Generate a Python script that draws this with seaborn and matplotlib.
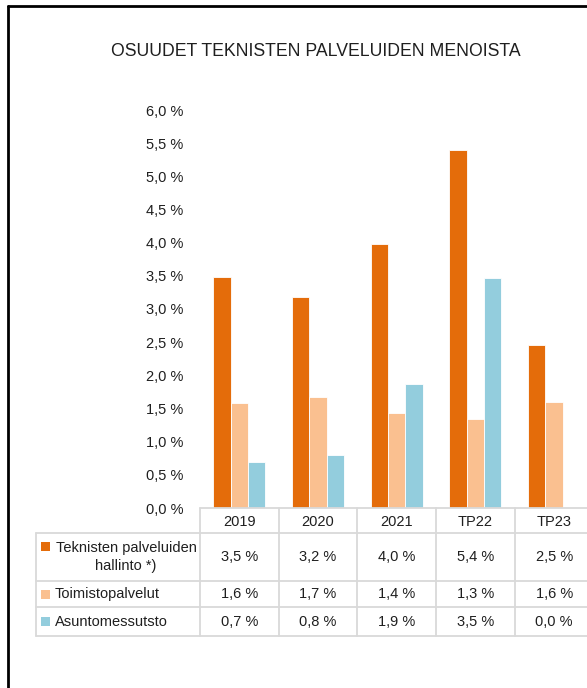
import pandas as pd
import matplotlib.pyplot as plt
import seaborn as sns
from matplotlib.lines import Line2D
from matplotlib.patches import Rectangle

# Data
vuodet = ["2019", "2020", "2021", "TP22", "TP23"]
sarjat = ["Teknisten palveluiden\nhallinto *)", "Toimistopalvelut", "Asuntomessutsto"]
hallinto = [3.48, 3.18, 3.98, 5.40, 2.46]
toimisto = [1.58, 1.67, 1.43, 1.34, 1.60]
asuntomessut = [0.69, 0.80, 1.87, 3.46, 0.00]
varit = ["#E46C0A", "#FAC090", "#93CDDD"]
yticks = [0, 0.5, 1.0, 1.5, 2.0, 2.5, 3.0, 3.5, 4.0, 4.5, 5.0, 5.5, 6.0]

df = pd.DataFrame({
    "vuosi": vuodet * 3,
    "sarja": [sarjat[0]] * 5 + [sarjat[1]] * 5 + [sarjat[2]] * 5,
    "osuus": hallinto + toimisto + asuntomessut,
})

sns.set_theme(style="white")
plt.rcParams["font.family"] = ["Liberation Sans", "DejaVu Sans"]
tc = "#1F1F1F"

W, H = 587, 688
fig = plt.figure(figsize=(W / 100, H / 100), dpi=100)
fig.patch.set_facecolor("white")

# pixel geometry
x0, colw = 200, 78.7
y0, ytop = 508, 110
ax = fig.add_axes([x0 / W, (H - y0) / H, colw * 5 / W, (y0 - ytop) / H])

sns.barplot(data=df, x="vuosi", y="osuus", hue="sarja", order=vuodet,
            hue_order=sarjat, palette=varit, saturation=1, width=0.66,
            edgecolor="white", linewidth=0.6, legend=False, ax=ax)
ax.set_xlim(-0.5, 4.5)
ax.set_ylim(0, 6)
ax.set_yticks(yticks)
ax.set_yticklabels([f"{v:.1f} %".replace(".", ",") for v in yticks],
                   fontsize=10.5, color=tc)
ax.set_xticks([])
ax.set_xlabel("")
ax.set_ylabel("")
ax.tick_params(axis="y", length=0, pad=12)
for s in ax.spines.values():
    s.set_visible(False)

# overlay in pixel coordinates for title, table and frame
ov = fig.add_axes([0, 0, 1, 1], zorder=5)
ov.set_xlim(0, W)
ov.set_ylim(H, 0)
ov.axis("off")
ov.patch.set_alpha(0)

ov.text(316, 52, "OSUUDET TEKNISTEN PALVELUIDEN MENOISTA", ha="center",
        va="center", fontsize=12.7, color=tc)

# frame (cropped at right and bottom)
ov.add_line(Line2D([8, 8], [6, H], color="black", lw=2))
ov.add_line(Line2D([8, W], [6, 6], color="black", lw=2))

# data table
gc = "#D9D9D9"
tl = 36
rows = [508, 533, 581, 607, 636]
xr = x0 + colw * 5
cols = [x0 + colw * i for i in range(6)]
ov.add_line(Line2D([x0, xr], [rows[0], rows[0]], color=gc, lw=1.3))
for r in rows[1:]:
    ov.add_line(Line2D([tl, xr], [r, r], color=gc, lw=1.3))
ov.add_line(Line2D([tl, tl], [rows[1], rows[-1]], color=gc, lw=1.3))
for c in cols:
    ov.add_line(Line2D([c, c], [rows[0], rows[-1]], color=gc, lw=1.3))

fs = 10.5
for i, v in enumerate(vuodet):
    ov.text(cols[i] + colw / 2, (rows[0] + rows[1]) / 2 + 1, v, ha="center",
            va="center", fontsize=fs, color=tc)

arvot = [hallinto, toimisto, asuntomessut]
for j, (nimi, vals) in enumerate(zip(sarjat, arvot)):
    yc = (rows[j + 1] + rows[j + 2]) / 2
    if j == 0:
        ov.add_patch(Rectangle((41, 542), 9, 9, color=varit[j], lw=0))
        for k, osa in enumerate(nimi.split("\n")):
            ov.text(126, yc - 9 + 18 * k, osa, ha="center", va="center",
                    fontsize=fs, color=tc)
    else:
        ov.add_patch(Rectangle((41, yc - 4.5), 9, 9, color=varit[j], lw=0))
        ov.text(55, yc, nimi, ha="left", va="center", fontsize=fs, color=tc)
    for i, val in enumerate(vals):
        ov.text(cols[i] + colw / 2, yc, f"{val:.1f} %".replace(".", ","),
                ha="center", va="center", fontsize=fs, color=tc)

plt.savefig("out.png", dpi=100, facecolor="white")
plt.close()
